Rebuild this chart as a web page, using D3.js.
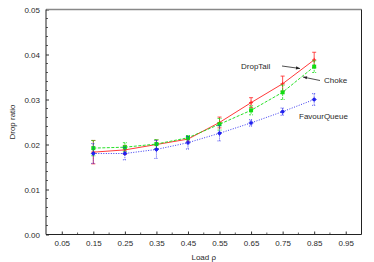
<!DOCTYPE html>
<html><head><meta charset="utf-8">
<script src="https://cdn.jsdelivr.net/npm/d3@7"></script>
<style>body{margin:0;background:#fff}svg{display:block}text{font-family:"Liberation Sans",Arial,sans-serif;fill:#2a2a2a}</style>
</head><body><svg id="c" width="374" height="262"></svg>
<script>
const loads = [0.15,0.25,0.35,0.45,0.55,0.65,0.75,0.85];
const dropTail = [0.0183,0.0188,0.0200,0.0212,0.0249,0.0293,0.0335,0.0388];
const dropTailErr = [0.0026,0.0010,0.0010,0.0006,0.0012,0.0011,0.0017,0.0017];
const choke = [0.0192,0.0194,0.0201,0.0215,0.0245,0.0276,0.0316,0.0373];
const chokeErr = [0.0017,0.0010,0.0010,0.0005,0.0013,0.0010,0.0016,0.0013];
const favour = [0.0180,0.0180,0.0189,0.0204,0.0225,0.0248,0.0273,0.0300];
const favourErr = [0.0022,0.0014,0.0020,0.0014,0.0017,0.0007,0.0008,0.0013];
const xTicks = [0.05,0.15,0.25,0.35,0.45,0.55,0.65,0.75,0.85,0.95];
const yTicks = [0,0.01,0.02,0.03,0.04,0.05];

const FS = 8;
const svg = d3.select("#c");
const x = d3.scaleLinear().domain([0,1]).range([46,361.5]);
const y = d3.scaleLinear().domain([0,0.05]).range([234.5,9.5]);

// minor ticks
const xMinor = d3.range(1,10).map(i=>i/10);
svg.append("g").selectAll("line").data(xMinor).join("line")
  .attr("x1",d=>x(d)).attr("x2",d=>x(d)).attr("y1",y(0)).attr("y2",y(0)-2)
  .attr("stroke","#333").attr("stroke-width",0.8);
const yMinor = d3.range(0,26).map(i=>i*0.002).filter(v=>Math.abs(v*100-Math.round(v*100))>1e-6);
svg.append("g").selectAll("line").data(yMinor).join("line")
  .attr("x1",x(0)).attr("x2",x(0)+2).attr("y1",d=>y(d)).attr("y2",d=>y(d))
  .attr("stroke","#333").attr("stroke-width",0.8);

// axes
const xAxis = d3.axisBottom(x).tickValues(xTicks).tickFormat(d3.format(".2f")).tickSize(-3).tickPadding(6);
const gx = svg.append("g").attr("transform",`translate(0,${y(0)})`).call(xAxis);
const yAxis = d3.axisLeft(y).tickValues(yTicks).tickFormat(d3.format(".2f")).tickSize(-3).tickPadding(6);
const gy = svg.append("g").attr("transform",`translate(${x(0)},0)`).call(yAxis);
[gx,gy].forEach(g=>{
  g.select(".domain").remove();
  g.selectAll(".tick line").attr("stroke","#333");
  g.selectAll(".tick text").attr("font-size",FS).attr("fill","#2a2a2a").attr("font-family","Liberation Sans, Arial, sans-serif");
});
// frame
svg.append("line").attr("x1",x(0)).attr("x2",x(1)).attr("y1",y(0.05)).attr("y2",y(0.05)).attr("stroke","#888").attr("stroke-width",1.5);
svg.append("line").attr("x1",x(0)).attr("x2",x(0)).attr("y1",y(0.05)).attr("y2",y(0)).attr("stroke","#222").attr("stroke-width",1);
svg.append("line").attr("x1",x(1)).attr("x2",x(1)).attr("y1",y(0.05)).attr("y2",y(0)).attr("stroke","#222").attr("stroke-width",1);
svg.append("line").attr("x1",x(0)).attr("x2",x(1)).attr("y1",y(0)).attr("y2",y(0)).attr("stroke","#222").attr("stroke-width",1.2);

// labels
svg.append("text").attr("x",(x(0)+x(1))/2).attr("y",259.5).attr("text-anchor","middle").attr("font-size",FS).text("Load ρ");
svg.append("text").attr("transform",`translate(14.5,${(y(0)+y(0.05))/2}) rotate(-90)`).attr("text-anchor","middle").attr("font-size",FS).text("Drop ratio");

const series = [
  {vals:dropTail, err:dropTailErr, color:"#f22", dash:null, errDash:null, marker:"plus"},
  {vals:choke, err:chokeErr, color:"#1d1", dash:"3,1.5", errDash:"2,1", marker:"square"},
  {vals:favour, err:favourErr, color:"#22e", dash:"1,1.5", errDash:"1,1", marker:"star"},
];
const line = d3.line().x((d,i)=>x(loads[i])).y(d=>y(d));
series.forEach(s=>{
  const g = svg.append("g");
  g.append("path").datum(s.vals).attr("d",line).attr("fill","none").attr("stroke",s.color).attr("stroke-width",0.9).attr("stroke-dasharray",s.dash);
  const eb = g.append("g").attr("stroke",s.color).attr("stroke-width",0.8).attr("stroke-dasharray",s.errDash);
  s.vals.forEach((v,i)=>{
    const cx = x(loads[i]), t=y(v+s.err[i]), b=y(v-s.err[i]);
    eb.append("line").attr("x1",cx).attr("x2",cx).attr("y1",t).attr("y2",b);
    eb.append("line").attr("x1",cx-2).attr("x2",cx+2).attr("y1",t).attr("y2",t).attr("stroke-dasharray",null);
    eb.append("line").attr("x1",cx-2).attr("x2",cx+2).attr("y1",b).attr("y2",b).attr("stroke-dasharray",null);
  });
  s.vals.forEach((v,i)=>{
    const cx = x(loads[i]), cy=y(v);
    if(s.marker==="square"){
      g.append("rect").attr("x",cx-2).attr("y",cy-2).attr("width",4).attr("height",4).attr("fill",s.color);
    } else if(s.marker==="plus"){
      g.append("path").attr("d",`M${cx-2},${cy}H${cx+2}M${cx},${cy-2}V${cy+2}`).attr("stroke",s.color).attr("stroke-width",1);
    } else {
      g.append("rect").attr("x",cx-1.5).attr("y",cy-1.5).attr("width",3).attr("height",3).attr("fill",s.color);
      g.append("path").attr("d",`M${cx-2.5},${cy}H${cx+2.5}M${cx},${cy-2.5}V${cy+2.5}`).attr("stroke",s.color).attr("stroke-width",0.8);
    }
  });
});

// annotations
svg.append("defs").append("marker").attr("id","ah").attr("viewBox","0 0 10 10").attr("refX",10).attr("refY",5)
  .attr("markerWidth",6).attr("markerHeight",5).attr("orient","auto")
  .append("path").attr("d","M0,1L10,5L0,9Z").attr("fill","#222");
svg.append("text").attr("x",241).attr("y",69).attr("font-size",FS).text("DropTail");
svg.append("line").attr("x1",282).attr("y1",66).attr("x2",300).attr("y2",68.5).attr("stroke","#222").attr("stroke-width",0.8).attr("marker-end","url(#ah)");
svg.append("text").attr("x",324).attr("y",83).attr("font-size",FS).text("Choke");
svg.append("line").attr("x1",320).attr("y1",80.5).attr("x2",303).attr("y2",77).attr("stroke","#222").attr("stroke-width",0.8).attr("marker-end","url(#ah)");
svg.append("text").attr("x",299).attr("y",119).attr("font-size",FS).text("FavourQueue");
</script></body></html>
